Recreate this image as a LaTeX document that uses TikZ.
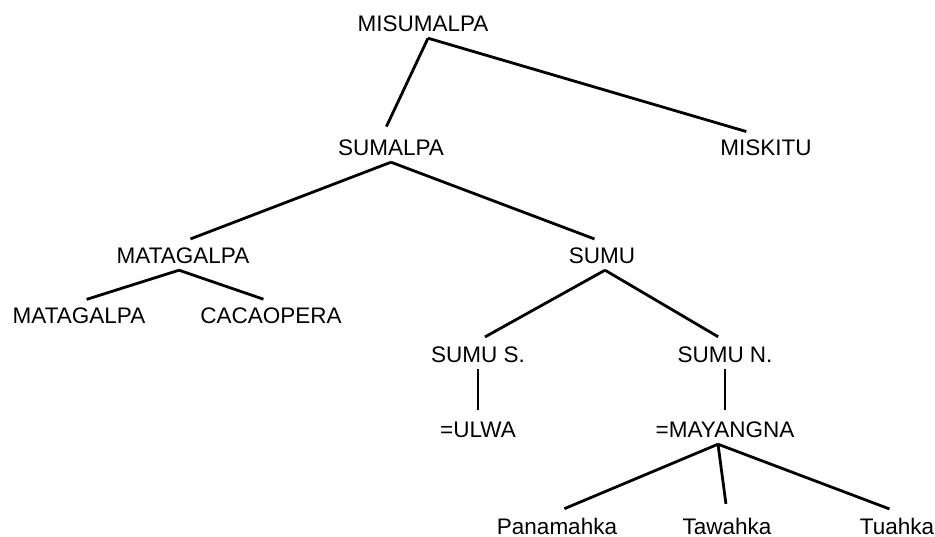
\documentclass[tikz,border=0pt]{standalone}
\usepackage{fontspec}
\setmainfont{Liberation Sans}
\begin{document}
\begin{tikzpicture}[x=1pt,y=-1pt,
  lang/.style={inner xsep=0pt,inner ysep=6pt,text height=16pt,text depth=0pt,
    font=\fontsize{22.5}{26}\selectfont},
  branch/.style={line width=2.8pt,shorten >=8pt}]
\useasboundingbox[fill=white] (0,0) rectangle (935,537);

% language nodes
\node[lang] (misumalpa) at (423,24)  {MISUMALPA};
\node[lang] (sumalpa)   at (391,148) {SUMALPA};
\node[lang] (miskitu)   at (766,148) {MISKITU};
\node[lang] (matagalpa) at (183,256) {MATAGALPA};
\node[lang] (sumu)      at (602,256) {SUMU};
\node[lang] (matag)     at (79,316)  {MATAGALPA};
\node[lang] (cacaopera) at (271,316) {CACAOPERA};
\node[lang] (sumus)     at (478,355) {SUMU S.};
\node[lang] (sumun)     at (725,355) {SUMU N.};
\node[lang] (ulwa)      at (478,430) {=ULWA};
\node[lang] (mayangna)  at (725,430) {=MAYANGNA};
\node[lang] (panamahka) at (557,526) {Panamahka};
\node[lang] (tawahka)   at (727,526) {Tawahka};
\node[lang] (tuahka)    at (897,526) {Tuahka};

% branches
\draw[branch] ([xshift=5pt]misumalpa.south) -- ([xshift=-8pt]sumalpa.north);
\draw[branch] ([xshift=5pt]misumalpa.south) -- ([xshift=-12pt]miskitu.north);
\draw[branch] (sumalpa.south) -- (matagalpa.north);
\draw[branch] (sumalpa.south) -- (sumu.north);
\draw[branch] ([xshift=3pt]sumu.south) -- (sumus.north);
\draw[branch] ([xshift=3pt]sumu.south) -- (sumun.north);
\draw[branch] ([xshift=-4pt]matagalpa.south) -- (matag.north);
\draw[branch] ([xshift=-4pt]matagalpa.south) -- (cacaopera.north);
\draw[branch,shorten >=6pt] (sumus.south) -- (ulwa.north);
\draw[branch,shorten >=6pt] (sumun.south) -- (mayangna.north);
\draw[branch] ([xshift=-7pt]mayangna.south) -- (panamahka.north);
\draw[branch] ([xshift=-7pt]mayangna.south) -- (tawahka.north);
\draw[branch] ([xshift=-7pt]mayangna.south) -- (tuahka.north);
\end{tikzpicture}
\end{document}
